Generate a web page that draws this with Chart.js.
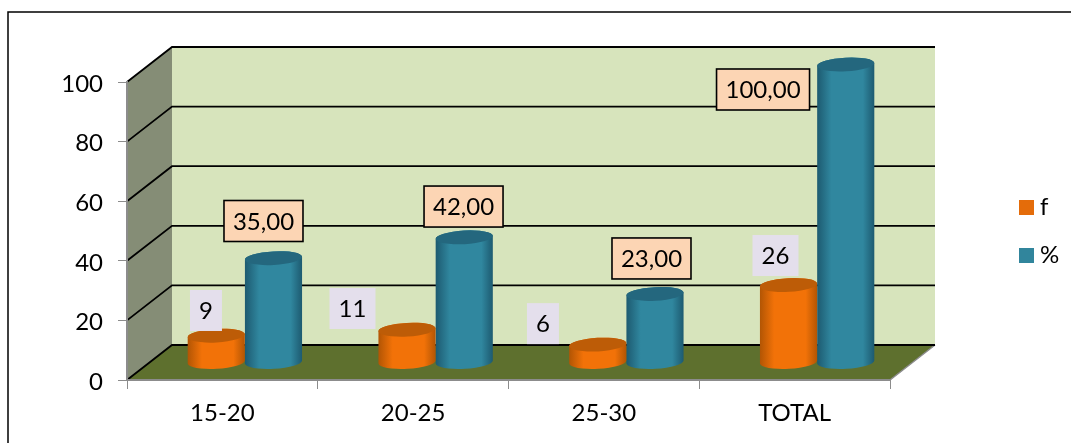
<!DOCTYPE html>
<html>
<head>
<meta charset="utf-8">
<style>
  html, body { margin: 0; padding: 0; background: #fff; }
  canvas { display: block; }
</style>
<script src="https://cdn.jsdelivr.net/npm/chart.js@4"></script>
</head>
<body>
<canvas id="chart" width="1071" height="443"></canvas>
<script>
const categories = ['15-20', '20-25', '25-30', 'TOTAL'];
const frequency = [9, 11, 6, 26];
const percentage = [35, 42, 23, 100];
const yTicks = [0, 20, 40, 60, 80, 100];

// Depth of the pseudo-3D box, and cylinder foreshortening
const DEPTH_X = 45;
const DEPTH_Y = -35;
const ELLIPSE_RY = 6.8;
const ELLIPSE_TILT = -0.055;

const FONT = 'Lato, "Open Sans", sans-serif';
const FONT_SIZE = 24;

// Where each value label box sits, centre relative to the top of its cylinder
const fLabelNudge = [[-10.3, -25.2], [-54.5, -21.2], [-54.8, -21], [-13, -29.5]];
const pLabelNudge = [[-10, -37.2], [-0.7, -30.8], [-3.5, -35.5], [-82.7, 25]];

const fStyle = { solid: '#E46C0A', edge: '#B25504', mid: '#F27208', cap: '#BD5C07', box: '#E4DFEC', border: null };
const pStyle = { solid: '#31859C', edge: '#1D5A70', mid: '#30879F', cap: '#24677E', box: '#FCD5B4', border: '#000000' };
const styles = [fStyle, pStyle];

function fmtF(v) { return String(v); }
function fmtP(v) { return v.toFixed(2).replace('.', ','); }
const labelFormats = [fmtF, fmtP];
const labelNudges = [fLabelNudge, pLabelNudge];

function drawCylinder(ctx, el, style) {
  const cx = el.x + DEPTH_X / 2;
  const rx = el.width / 2;
  const topY = el.y + DEPTH_Y / 2;
  const baseY = el.base + DEPTH_Y / 2;

  const grad = ctx.createLinearGradient(cx - rx, 0, cx + rx, 0);
  grad.addColorStop(0, style.edge);
  grad.addColorStop(0.25, style.mid);
  grad.addColorStop(0.5, style.mid);
  grad.addColorStop(0.8, style.mid);
  grad.addColorStop(1, style.edge);

  ctx.save();
  ctx.beginPath();
  ctx.ellipse(cx, baseY, rx, ELLIPSE_RY, ELLIPSE_TILT, 0, Math.PI);
  ctx.ellipse(cx, topY, rx, ELLIPSE_RY, ELLIPSE_TILT, Math.PI, 2 * Math.PI);
  ctx.closePath();
  ctx.fillStyle = grad;
  ctx.fill();

  ctx.beginPath();
  ctx.ellipse(cx, topY, rx, ELLIPSE_RY, ELLIPSE_TILT, 0, 2 * Math.PI);
  ctx.fillStyle = style.cap;
  ctx.fill();
  ctx.restore();
}

const box3d = {
  id: 'box3d',
  // Walls and floor go underneath the axes
  beforeDraw(chart) {
    const { ctx, chartArea: a, scales: { y } } = chart;
    const bx = a.left + DEPTH_X, tx = a.right + DEPTH_X;
    const by = a.bottom + DEPTH_Y, ty = a.top + DEPTH_Y;

    ctx.save();
    // outer frame, open to the right and below
    ctx.strokeStyle = '#000';
    ctx.lineWidth = 1.5;
    ctx.beginPath();
    ctx.moveTo(8, 443);
    ctx.lineTo(8, 12);
    ctx.lineTo(1071, 12);
    ctx.stroke();

    // back wall
    ctx.fillStyle = '#D7E4BC';
    ctx.fillRect(bx, ty, tx - bx, by - ty);
    // side wall
    ctx.fillStyle = '#858D76';
    ctx.beginPath();
    ctx.moveTo(a.left, a.top);
    ctx.lineTo(bx, ty);
    ctx.lineTo(bx, by);
    ctx.lineTo(a.left, a.bottom);
    ctx.closePath();
    ctx.fill();
    // floor
    ctx.fillStyle = '#5E702E';
    ctx.beginPath();
    ctx.moveTo(a.left, a.bottom);
    ctx.lineTo(bx, by);
    ctx.lineTo(tx, by);
    ctx.lineTo(a.right, a.bottom);
    ctx.closePath();
    ctx.fill();
    // floor's right edge
    ctx.strokeStyle = '#8C8C8C';
    ctx.lineWidth = 1.5;
    ctx.beginPath();
    ctx.moveTo(a.right, a.bottom);
    ctx.lineTo(tx, by);
    ctx.stroke();

    // grid lines running along the side wall and back wall
    ctx.strokeStyle = '#000';
    ctx.lineWidth = 1.8;
    yTicks.forEach(v => {
      const py = y.getPixelForValue(v);
      ctx.beginPath();
      ctx.moveTo(a.left, py);
      ctx.lineTo(bx, py + DEPTH_Y);
      ctx.lineTo(tx, py + DEPTH_Y);
      ctx.stroke();
    });
    ctx.restore();
  },
  // Bars are painted as cylinders at mid depth
  beforeDatasetDraw(chart, args) {
    const meta = chart.getDatasetMeta(args.index);
    meta.data.forEach(el => drawCylinder(chart.ctx, el, styles[args.index]));
    return false;
  },
  afterDatasetsDraw(chart) {
    const { ctx } = chart;
    ctx.save();
    ctx.font = FONT_SIZE + 'px ' + FONT;
    ctx.textAlign = 'center';
    ctx.textBaseline = 'middle';
    chart.data.datasets.forEach((ds, di) => {
      const meta = chart.getDatasetMeta(di);
      const style = styles[di];
      meta.data.forEach((el, i) => {
        const text = labelFormats[di](ds.data[i]);
        const cx = el.x + DEPTH_X / 2 + labelNudges[di][i][0];
        const cy = el.y + DEPTH_Y / 2 + labelNudges[di][i][1];
        const w = Math.round(ctx.measureText(text).width) + 18;
        const h = 41;
        ctx.fillStyle = style.box;
        ctx.fillRect(cx - w / 2, cy - h / 2, w, h);
        if (style.border) {
          ctx.strokeStyle = style.border;
          ctx.lineWidth = 1.6;
          ctx.strokeRect(cx - w / 2, cy - h / 2, w, h);
        }
        ctx.fillStyle = '#000';
        ctx.fillText(text, cx, cy + 1);
      });
    });

    // legend, from the datasets' own names and colours
    const legendYs = [207.5, 255.5];
    chart.data.datasets.forEach((ds, di) => {
      ctx.fillStyle = ds.backgroundColor;
      ctx.fillRect(1019, legendYs[di] - 7.5, 15, 15);
      ctx.fillStyle = '#000';
      ctx.textAlign = 'left';
      ctx.fillText(ds.label, 1040, legendYs[di]);
    });
    ctx.restore();
  }
};

new Chart(document.getElementById('chart'), {
  type: 'bar',
  data: {
    labels: categories,
    datasets: [
      { label: 'f', data: frequency, backgroundColor: fStyle.solid, categoryPercentage: 0.6, barPercentage: 1 },
      { label: '%', data: percentage, backgroundColor: pStyle.solid, categoryPercentage: 0.6, barPercentage: 1 }
    ]
  },
  plugins: [box3d],
  options: {
    responsive: false,
    animation: false,
    devicePixelRatio: 1,
    layout: { padding: { left: 0, top: 82, right: 181, bottom: 0 } },
    plugins: { legend: { display: false }, tooltip: { enabled: false } },
    scales: {
      x: {
        afterFit(scale) { scale.height = 63; },
        grid: { drawOnChartArea: false, drawTicks: true, tickLength: 9, color: '#8C8C8C', offset: true },
        border: { color: '#8C8C8C', width: 2 },
        ticks: { color: '#000', font: { family: FONT, size: FONT_SIZE }, padding: 10, maxRotation: 0 }
      },
      y: {
        min: 0,
        max: 100,
        afterFit(scale) { scale.width = 127; },
        afterBuildTicks(scale) { scale.ticks = yTicks.map(value => ({ value })); },
        grid: { drawOnChartArea: false, drawTicks: true, tickLength: 9, color: '#8C8C8C' },
        border: { color: '#8C8C8C', width: 2 },
        ticks: { color: '#000', font: { family: FONT, size: FONT_SIZE }, padding: 15, labelOffset: 2 }
      }
    }
  }
});
</script>
</body>
</html>
